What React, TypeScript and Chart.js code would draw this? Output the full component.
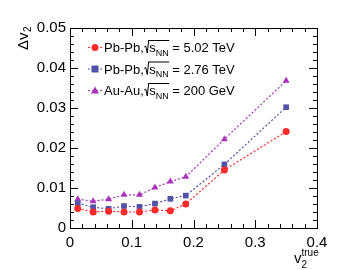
import React, { useEffect, useRef } from "react";
import { Chart, registerables } from "chart.js";

Chart.register(...registerables);

const xValues = [0.0125, 0.0375, 0.0625, 0.0875, 0.1125, 0.1375, 0.1625, 0.1875, 0.25, 0.35];
const pbpb502 = [0.0049, 0.004, 0.0042, 0.004, 0.004, 0.0045, 0.0043, 0.006, 0.0145, 0.0241];
const pbpb276 = [0.0062, 0.0052, 0.0048, 0.0055, 0.0053, 0.0061, 0.0073, 0.0081, 0.0159, 0.0302];
const auau200 = [0.0072, 0.0067, 0.0072, 0.0083, 0.0083, 0.0101, 0.0116, 0.0128, 0.0222, 0.0368];

const systems = ["Pb-Pb,", "Pb-Pb,", "Au-Au,"];
const energies = ["= 5.02 TeV", "= 2.76 TeV", "= 200 GeV"];
const colors = ["#ff2a2a", "#5252aa", "#aa33bb"];
const markers = ["circle", "rect", "triangle"];

const xTickLabels = ["0", "0.1", "0.2", "0.3", "0.4"];
const yTickLabels = ["0", "0.01", "0.02", "0.03", "0.04", "0.05"];

const FONT = "'Liberation Sans', Arial, Helvetica, sans-serif";

export default function App() {
  const ref = useRef<HTMLCanvasElement | null>(null);

  useEffect(() => {
    if (!ref.current) return;
    const seriesData = [pbpb502, pbpb276, auau200];

    const overlay = {
      id: "rootStyle",
      afterDraw(chart: any) {
        const ctx = chart.ctx as CanvasRenderingContext2D;
        const { left, right, top, bottom } = chart.chartArea;
        const xs = chart.scales.x;
        const ys = chart.scales.y;
        ctx.save();
        ctx.strokeStyle = "#000";
        ctx.lineWidth = 1;
        ctx.setLineDash([]);
        // frame
        ctx.strokeRect(Math.round(left) + 0.5, Math.round(top) + 0.5, Math.round(right - left), Math.round(bottom - top));
        // y ticks
        for (let i = 0; i <= 25; i++) {
          const y = Math.round(ys.getPixelForValue(i * 0.002)) + 0.5;
          const len = i % 5 === 0 ? 8 : 4;
          ctx.beginPath();
          ctx.moveTo(left, y);
          ctx.lineTo(left + len, y);
          ctx.moveTo(right, y);
          ctx.lineTo(right - len, y);
          ctx.stroke();
        }
        for (let i = 0; i <= 20; i++) {
          const x = Math.round(xs.getPixelForValue(i * 0.02)) + 0.5;
          const len = i % 5 === 0 ? 8 : 4;
          ctx.beginPath();
          ctx.moveTo(x, bottom);
          ctx.lineTo(x, bottom - len);
          ctx.moveTo(x, top);
          ctx.lineTo(x, top + len);
          ctx.stroke();
        }

        // y title
        ctx.save();
        ctx.translate(28, 50);
        ctx.rotate(-Math.PI / 2);
        ctx.fillStyle = "#000";
        ctx.textBaseline = "alphabetic";
        ctx.textAlign = "left";
        ctx.font = `15px ${FONT}`;
        ctx.fillText("\u0394v", 0, 0);
        const w = ctx.measureText("\u0394v").width;
        ctx.font = `10px ${FONT}`;
        ctx.fillText("2", w + 0.5, 3);
        ctx.restore();

        // x title
        ctx.fillStyle = "#000";
        ctx.textAlign = "left";
        ctx.textBaseline = "alphabetic";
        ctx.font = `15px ${FONT}`;
        ctx.fillText("v", 294, 263);
        const vw = ctx.measureText("v").width;
        ctx.font = `10px ${FONT}`;
        ctx.fillText("2", 294 + vw, 268);
        ctx.fillText("true", 294 + vw, 256);

        // legend
        for (let i = 0; i < 3; i++) {
          const cy = 47.5 + i * 21.5;
          ctx.strokeStyle = colors[i];
          ctx.lineWidth = 1.2;
          ctx.setLineDash([2, 2]);
          ctx.beginPath();
          ctx.moveTo(88, cy);
          ctx.lineTo(102, cy);
          ctx.stroke();
          ctx.setLineDash([]);
          ctx.fillStyle = colors[i];
          if (markers[i] === "circle") {
            ctx.beginPath();
            ctx.arc(95, cy, 3.5, 0, Math.PI * 2);
            ctx.fill();
          } else if (markers[i] === "rect") {
            ctx.fillRect(91.5, cy - 3.5, 7, 7);
          } else {
            ctx.beginPath();
            ctx.moveTo(95, cy - 4);
            ctx.lineTo(99, cy + 3);
            ctx.lineTo(91, cy + 3);
            ctx.closePath();
            ctx.fill();
          }
          ctx.fillStyle = "#000";
          ctx.strokeStyle = "#000";
          ctx.lineWidth = 1;
          const base = cy + 4.5;
          let x = 104;
          ctx.font = `13px ${FONT}`;
          ctx.fillText(systems[i], x, base);
          x += ctx.measureText(systems[i]).width;
          // sqrt sign
          ctx.beginPath();
          ctx.moveTo(x + 0.5, base - 5);
          ctx.lineTo(x + 2, base - 6);
          ctx.lineTo(x + 3.5, base + 1);
          ctx.lineTo(x + 5, base - 12);
          ctx.stroke();
          const sx = x + 5.5;
          ctx.fillText("s", sx, base);
          const sw = ctx.measureText("s").width;
          ctx.font = `9px ${FONT}`;
          ctx.fillText("NN", sx + sw, base + 3.5);
          const nw = ctx.measureText("NN").width;
          ctx.beginPath();
          ctx.moveTo(x + 5, base - 11.5);
          ctx.lineTo(sx + sw + nw + 0.5, base - 11.5);
          ctx.stroke();
          ctx.font = `13px ${FONT}`;
          ctx.fillText(energies[i], sx + sw + nw + 3.5, base);
        }
        ctx.restore();
      },
    };

    const chart = new Chart(ref.current, {
      type: "line",
      data: {
        datasets: seriesData.map((d, i) => ({
          label: energies[i],
          data: d.map((v, j) => ({ x: xValues[j], y: v })),
          borderColor: colors[i],
          backgroundColor: colors[i],
          borderWidth: 1.2,
          borderDash: [2, 2],
          pointStyle: markers[i] as any,
          pointRadius: markers[i] === "circle" ? 3.5 : 4,
          pointBorderWidth: 0,
          tension: 0,
          fill: false,
        })),
      },
      options: {
        responsive: false,
        animation: false,
        devicePixelRatio: 1,
        layout: { padding: { left: 0, top: 28, right: 38, bottom: 0 } },
        plugins: { legend: { display: false }, tooltip: { enabled: false } },
        scales: {
          x: {
            type: "linear",
            min: 0,
            max: 0.4,
            grid: { display: false, drawTicks: false },
            border: { display: false },
            afterFit: (s: any) => {
              s.height = 42;
            },
            ticks: {
              stepSize: 0.1,
              padding: 6,
              color: "#000",
              font: { family: FONT, size: 15 },
              maxRotation: 0,
              callback: (v: any) => xTickLabels[Math.round(Number(v) * 10)] ?? "",
            },
          },
          y: {
            type: "linear",
            min: 0,
            max: 0.05,
            grid: { display: false, drawTicks: false },
            border: { display: false },
            afterFit: (s: any) => {
              s.width = 70;
            },
            ticks: {
              stepSize: 0.01,
              padding: 4,
              color: "#000",
              font: { family: FONT, size: 15 },
              callback: (v: any) => yTickLabels[Math.round(Number(v) * 100)] ?? "",
            },
          },
        },
      },
      plugins: [overlay],
    });
    return () => chart.destroy();
  }, []);

  return (
    <div style={{ position: "absolute", left: 0, top: 0, width: 355, height: 270, background: "#fff" }}>
      <canvas ref={ref} width={355} height={270} style={{ display: "block" }} />
    </div>
  );
}
